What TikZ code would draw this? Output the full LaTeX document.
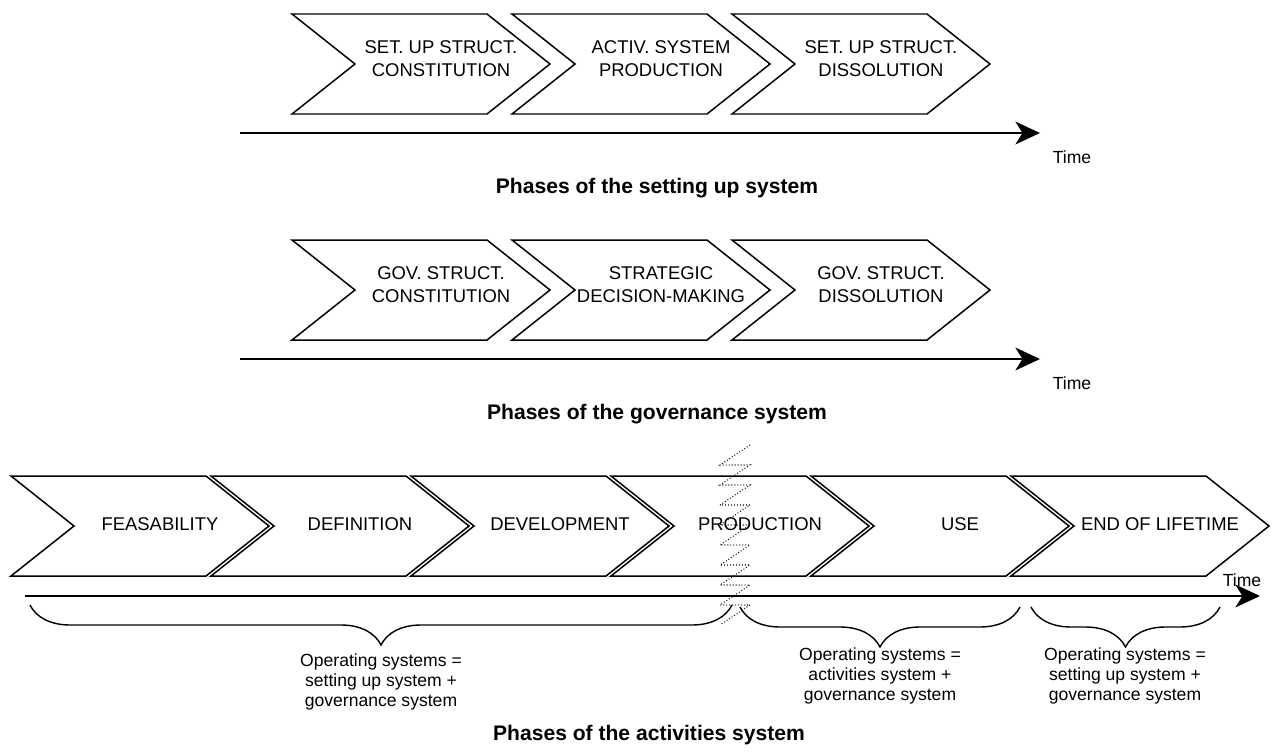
\documentclass[tikz,border=0pt]{standalone}
\usepackage{fontspec}
\setmainfont{Liberation Sans}
\usetikzlibrary{arrows.meta, decorations.pathreplacing}

\begin{document}
\begin{tikzpicture}[x=0.02cm, y=-0.02cm,
		phasebox/.style={draw, line width=0.85pt},
		phasetext/.style={align=center, font=\fontsize{10.5}{13}\selectfont},
		timeline/.style={line width=1.1pt, -{Stealth[length=14pt, width=13pt, inset=4pt]}},
		timelabel/.style={font=\fontsize{10}{12}\selectfont},
		phasetitle/.style={font=\fontsize{12}{14}\selectfont\bfseries},
		opnote/.style={align=center, font=\fontsize{10}{11.4}\selectfont, inner sep=2pt},
		span/.style={decorate, decoration={brace, mirror, amplitude=0.8cm}, line width=0.8pt},
		cutline/.style={line width=0.6pt, dash pattern=on 0.5pt off 1.2pt}]

		\useasboundingbox (0,0) rectangle (1275,754);

		% setting up system
		\foreach \x/\name/\txt in {292/su1/{SET. UP STRUCT.\\CONSTITUTION}, 512/su2/{ACTIV. SYSTEM\\PRODUCTION}, 732/su3/{SET. UP STRUCT.\\DISSOLUTION}} {
			\draw[phasebox] (\x,14) -- ++(195,0) -- ++(63,50) -- ++(-63,50) -- ++(-195,0) -- ++(63,-50) -- cycle;
			\node[phasetext] (\name) at (\x+149,59) {\txt};
		}
		\coordinate (su start) at (240,133);
		\coordinate (su end) at (1040,133);
		\draw[timeline] (su start) -- (su end);
		\node[timelabel] (su time) at (1072,157) {Time};
		\node[phasetitle] (su title) at (657,188) {Phases of the setting up system};

		% governance system
		\foreach \x/\name/\txt in {292/gov1/{GOV. STRUCT.\\CONSTITUTION}, 512/gov2/{STRATEGIC\\DECISION-MAKING}, 732/gov3/{GOV. STRUCT.\\DISSOLUTION}} {
			\draw[phasebox] (\x,240) -- ++(195,0) -- ++(63,50) -- ++(-63,50) -- ++(-195,0) -- ++(63,-50) -- cycle;
			\node[phasetext] (\name) at (\x+149,285) {\txt};
		}
		\coordinate (gov start) at (240,359);
		\coordinate (gov end) at (1040,359);
		\draw[timeline] (gov start) -- (gov end);
		\node[timelabel] (gov time) at (1072,383) {Time};
		\node[phasetitle] (gov title) at (657,414) {Phases of the governance system};

		% activities system
		\foreach \x/\name/\txt in {11/feas/FEASABILITY, 211/defi/DEFINITION, 411/deve/DEVELOPMENT, 611/prod/PRODUCTION, 811/use/USE, 1011/eol/END OF LIFETIME} {
			\draw[phasebox] (\x,476) -- ++(195,0) -- ++(63,50) -- ++(-63,50) -- ++(-195,0) -- ++(63,-50) -- cycle;
			\node[phasetext] (\name) at (\x+149,524) {\txt};
		}
		\coordinate (act start) at (25,596);
		\coordinate (act end) at (1260,596);
		\draw[timeline] (act start) -- (act end);
		\node[timelabel] (act time) at (1242,580) {Time};

		\draw[cutline] (750,445) \foreach \k in {0,...,7} { -- (720,465+20*\k) -- (750,465+20*\k) } -- (720,625);

		\coordinate (b1l) at (30,605);
		\coordinate (b1r) at (732,605);
		\coordinate (b2l) at (740,607);
		\coordinate (b2r) at (1020,607);
		\coordinate (b3l) at (1031,607);
		\coordinate (b3r) at (1220,607);
		\draw[span] (b1l) -- (b1r);
		\draw[span] (b2l) -- (b2r);
		\draw[span] (b3l) -- (b3r);
		\node[opnote, below] (op1) at (381,650) {Operating systems =\\setting up system +\\governance system};
		\node[opnote, below] (op2) at (880,644) {Operating systems =\\activities system +\\governance system};
		\node[opnote, below] (op3) at (1125,644) {Operating systems =\\setting up system +\\governance system};

		\node[phasetitle] (act title) at (649,735) {Phases of the activities system};
	\end{tikzpicture}
\end{document}
